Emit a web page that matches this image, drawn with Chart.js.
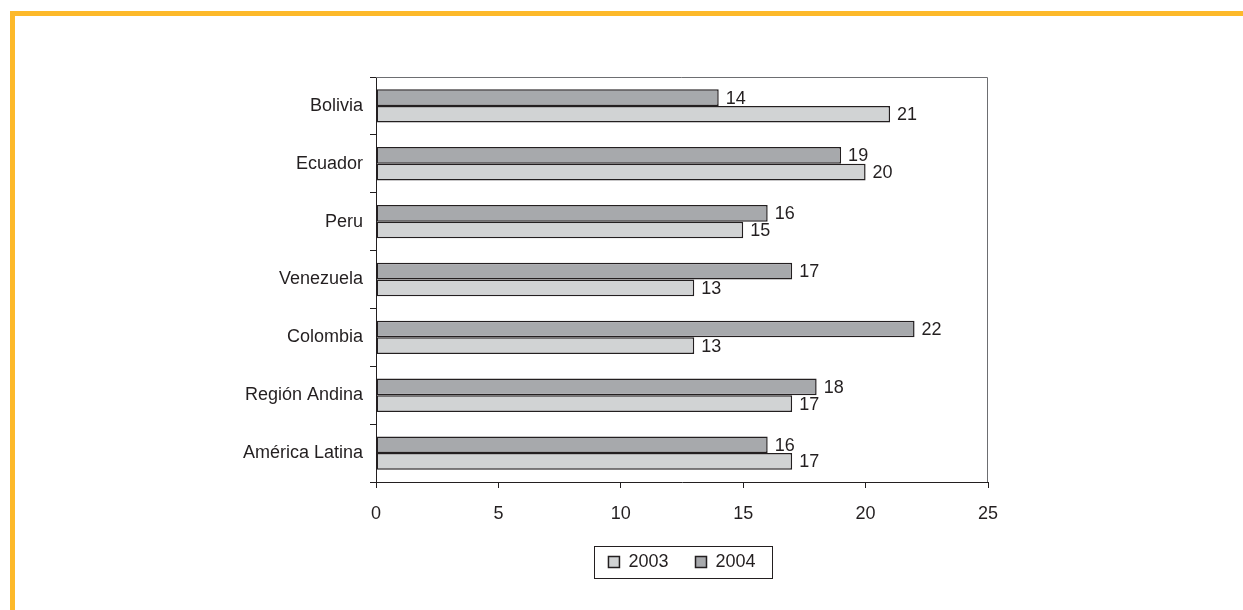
<!DOCTYPE html>
<html>
<head>
<meta charset="utf-8">
<script src="https://cdn.jsdelivr.net/npm/chart.js@4/dist/chart.umd.min.js"></script>
<style>
  html, body { margin: 0; padding: 0; background: #fff; overflow: hidden; }
  #marco {
    position: absolute; left: 10px; top: 11px; width: 1300px; height: 700px;
    border-top: 5px solid #fdb92a; border-left: 5px solid #fdb92a;
  }
  #grafico { position: absolute; left: 0; top: 0; }
</style>
</head>
<body>
<div id="marco"></div>
<canvas id="grafico" width="1243" height="610"></canvas>
<script>
const paises = ['Bolivia', 'Ecuador', 'Peru', 'Venezuela', 'Colombia', 'Región Andina', 'América Latina'];
const datos2003 = [21, 20, 15, 13, 13, 17, 17];
const datos2004 = [14, 19, 16, 17, 22, 18, 16];
const ticksX = [0, 5, 10, 15, 20, 25];

const tinta = '#231f20';
const familia = 'Liberation Sans, Arial, sans-serif';
const fuente = { family: familia, size: 18 };

// numeros al final de cada barra
const etiquetas = {
  id: 'etiquetas',
  afterDatasetsDraw(chart) {
    const ctx = chart.ctx;
    ctx.save();
    ctx.font = '18px ' + familia;
    ctx.fillStyle = tinta;
    ctx.textAlign = 'left';
    ctx.textBaseline = 'middle';
    chart.data.datasets.forEach((ds, i) => {
      chart.getDatasetMeta(i).data.forEach((bar, j) => {
        ctx.fillText(ds.data[j], bar.x + 7, bar.y + 1);
      });
    });
    ctx.restore();
  }
};

// marco de la zona de trazado y recuadro de la leyenda
const marcos = {
  id: 'marcos',
  afterDraw(chart) {
    const ctx = chart.ctx;
    const a = chart.chartArea;
    ctx.save();
    ctx.strokeStyle = '#6d6e71';
    ctx.lineWidth = 1;
    ctx.beginPath();
    ctx.moveTo(a.left, a.top + 0.5);
    ctx.lineTo(a.right - 0.5, a.top + 0.5);
    ctx.lineTo(a.right - 0.5, a.bottom);
    ctx.stroke();

    const cajas = chart.legend.legendHitBoxes;
    if (cajas && cajas.length) {
      const izq = Math.min(...cajas.map(c => c.left));
      const der = Math.max(...cajas.map(c => c.left + c.width));
      const arr = Math.min(...cajas.map(c => c.top));
      const alto = Math.max(...cajas.map(c => c.height));
      ctx.strokeStyle = tinta;
      ctx.strokeRect(Math.round(izq - 14) + 0.5, Math.round(arr + alto / 2 - 16) + 0.5, Math.round(der - izq + 31), 32);
    }
    ctx.restore();
  }
};

new Chart(document.getElementById('grafico').getContext('2d'), {
  type: 'bar',
  data: {
    labels: paises,
    datasets: [
      { label: '2004', data: datos2004, backgroundColor: '#a7a9ac', borderColor: tinta, borderWidth: 1.5, borderSkipped: false },
      { label: '2003', data: datos2003, backgroundColor: '#d1d3d4', borderColor: tinta, borderWidth: 1.5, borderSkipped: false }
    ]
  },
  options: {
    indexAxis: 'y',
    responsive: false,
    animation: false,
    layout: { padding: { top: 77, right: 255, left: 0, bottom: 29 } },
    datasets: { bar: { barPercentage: 1, categoryPercentage: 0.577 } },
    scales: {
      y: {
        grid: { offset: true, drawOnChartArea: false, tickLength: 6, color: tinta },
        border: { color: tinta, width: 1 },
        ticks: { font: fuente, color: tinta, padding: 7 },
        afterFit(s) { s.width = 376; }
      },
      x: {
        min: 0, max: 25,
        afterBuildTicks(s) { s.ticks = ticksX.map(v => ({ value: v })); },
        grid: { drawOnChartArea: false, tickLength: 6, color: tinta },
        border: { color: tinta, width: 1 },
        ticks: { font: fuente, color: tinta, padding: 15 },
        afterFit(s) { s.height = 44; }
      }
    },
    plugins: {
      legend: {
        position: 'bottom',
        fullSize: false,
        reverse: true,
        labels: { boxWidth: 11, boxHeight: 11, font: fuente, color: tinta, padding: 27 }
      },
      tooltip: { enabled: false }
    }
  },
  plugins: [etiquetas, marcos]
});
</script>
</body>
</html>
